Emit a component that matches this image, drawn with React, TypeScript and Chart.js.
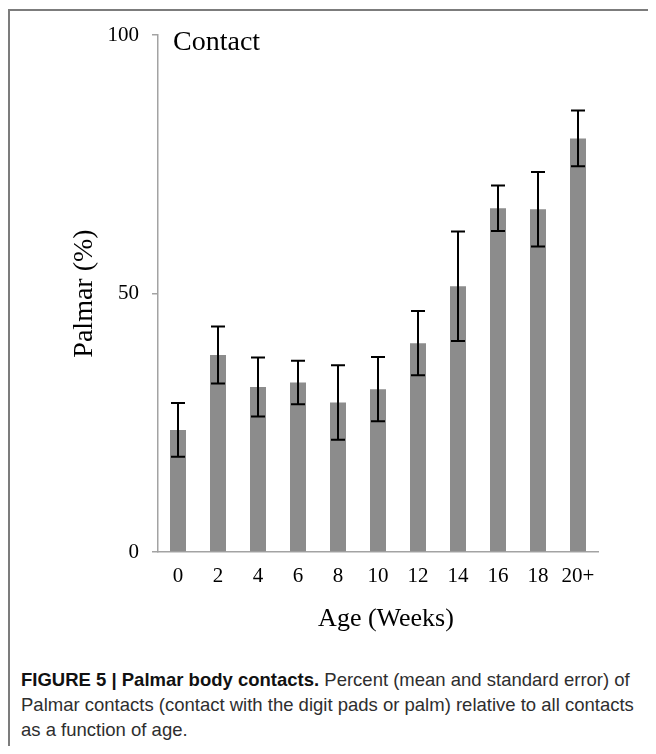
import React, { useEffect, useRef } from 'react';
import { Chart, registerables } from 'chart.js';

Chart.register(...registerables);

const weeks = ['0', '2', '4', '6', '8', '10', '12', '14', '16', '18', '20+'];
const palmarMean = [23.6, 38.1, 31.9, 32.8, 28.9, 31.5, 40.4, 51.4, 66.5, 66.3, 80.0];
const palmarSE = [5.2, 5.5, 5.7, 4.2, 7.2, 6.2, 6.2, 10.6, 4.4, 7.2, 5.4];
const yTicks = [0, 50, 100];
const panelTitle = 'Contact';
const xTitle = 'Age (Weeks)';
const yTitle = 'Palmar (%)';

const SERIF = "'Liberation Serif', 'Times New Roman', serif";

const errorBarPlugin = {
  id: 'errorBars',
  afterDatasetsDraw(chart: any) {
    const meta = chart.getDatasetMeta(0);
    const yScale = chart.scales.y;
    const ctx = chart.ctx;
    ctx.save();
    ctx.strokeStyle = '#000000';
    ctx.lineWidth = 2;
    meta.data.forEach((bar: any, i: number) => {
      const x = bar.x;
      const top = yScale.getPixelForValue(palmarMean[i] + palmarSE[i]);
      const bot = yScale.getPixelForValue(palmarMean[i] - palmarSE[i]);
      ctx.beginPath();
      ctx.moveTo(x, top);
      ctx.lineTo(x, bot);
      ctx.moveTo(x - 7, top);
      ctx.lineTo(x + 7, top);
      ctx.moveTo(x - 7, bot);
      ctx.lineTo(x + 7, bot);
      ctx.stroke();
    });
    ctx.restore();
  },
};

const titlesPlugin = {
  id: 'chartTitles',
  afterDraw(chart: any) {
    const { ctx, chartArea } = chart;
    ctx.save();
    ctx.fillStyle = '#000000';
    ctx.font = `28px ${SERIF}`;
    ctx.textAlign = 'left';
    ctx.textBaseline = 'alphabetic';
    ctx.fillText(panelTitle, chartArea.left + 15, chartArea.top + 14.5);
    ctx.font = `26px ${SERIF}`;
    ctx.textAlign = 'center';
    ctx.textBaseline = 'middle';
    ctx.fillText(xTitle, (chartArea.left + chartArea.right) / 2 + 8, chartArea.bottom + 67);
    ctx.restore();
  },
};

function PalmarChart() {
  const canvasRef = useRef<HTMLCanvasElement | null>(null);

  useEffect(() => {
    if (!canvasRef.current) return;
    const chart = new Chart(canvasRef.current, {
      type: 'bar',
      data: {
        labels: weeks,
        datasets: [
          {
            data: palmarMean,
            backgroundColor: '#8c8c8c',
            borderWidth: 0,
            barPercentage: 0.4,
            categoryPercentage: 1.0,
          },
        ],
      },
      options: {
        animation: false,
        responsive: true,
        maintainAspectRatio: false,
        layout: { padding: { top: 35, right: 58, left: 0, bottom: 0 } },
        plugins: {
          legend: { display: false },
          tooltip: { enabled: false },
        },
        scales: {
          x: {
            afterFit: (s: any) => {
              s.height = 108;
            },
            grid: { display: false, drawTicks: false },
            border: { display: true, color: '#a3a3a3', width: 1.5 },
            ticks: {
              color: '#000000',
              font: { family: SERIF, size: 21 },
              padding: 12,
              maxRotation: 0,
              autoSkip: false,
            },
          },
          y: {
            min: 0,
            max: 100,
            afterFit: (s: any) => {
              s.width = 158;
            },
            afterBuildTicks: (s: any) => {
              s.ticks = yTicks.map((v) => ({ value: v }));
            },
            grid: {
              display: true,
              drawOnChartArea: false,
              drawTicks: true,
              tickLength: 6,
              color: '#a3a3a3',
              lineWidth: 1.5,
            },
            border: { display: true, color: '#a3a3a3', width: 1.5 },
            ticks: {
              color: '#000000',
              font: { family: SERIF, size: 21 },
              padding: 13,
            },
            title: {
              display: true,
              text: yTitle,
              color: '#000000',
              font: { family: SERIF, size: 28 },
              padding: { top: 68, bottom: 0 },
            },
          },
        },
      },
      plugins: [errorBarPlugin, titlesPlugin],
    });
    return () => chart.destroy();
  }, []);

  return (
    <div style={{ position: 'absolute', left: -8, top: -8, width: 656, height: 660 }}>
      <canvas ref={canvasRef} />
    </div>
  );
}

export default function App() {
  return (
    <div style={{ position: 'relative', width: 640, height: 738 }}>
      <div
        style={{
          position: 'absolute',
          left: 0,
          top: 1,
          width: 648,
          height: 745,
          borderTop: '2px solid #7c7c7c',
          borderLeft: '2px solid #7c7c7c',
          boxSizing: 'border-box',
        }}
      />
      <PalmarChart />
      <div
        style={{
          position: 'absolute',
          left: 13,
          top: 659,
          width: 640,
          whiteSpace: 'nowrap',
          fontFamily: "'Liberation Sans', Arial, sans-serif",
          fontSize: 18.5,
          lineHeight: '25px',
          color: '#2e2e2e',
        }}
      >
        <b style={{ color: '#111' }}>FIGURE 5 | Palmar body contacts.</b> Percent (mean and standard error) of
        <br />
        Palmar contacts (contact with the digit pads or palm) relative to all contacts
        <br />
        as a function of age.
      </div>
    </div>
  );
}
